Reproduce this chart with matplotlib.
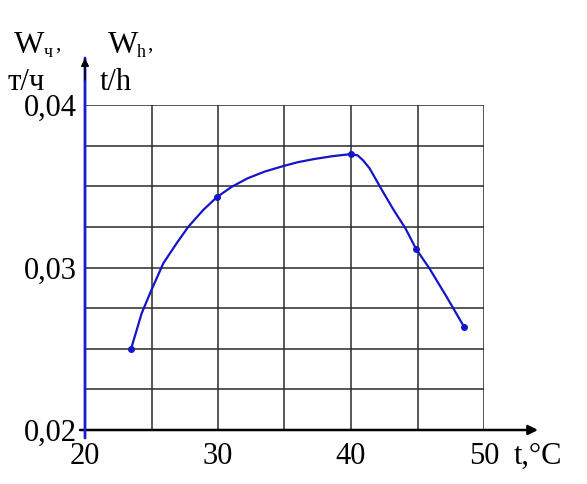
import matplotlib
matplotlib.use("Agg")
import matplotlib.pyplot as plt

# data
curve_t = [23.46, 24.26, 24.94, 25.89, 26.89, 27.77, 28.89, 29.9, 31.0, 32.2, 33.5, 34.9, 36.0, 37.2, 38.6, 40.0, 40.5, 40.9, 41.4, 42.4, 43.2, 44.1, 44.9, 45.9, 47.2, 48.5]
curve_w = [0.02498, 0.02718, 0.02851, 0.03026, 0.03149, 0.03251, 0.03354, 0.03432, 0.03495, 0.03548, 0.03590, 0.03624, 0.03648, 0.03667, 0.03685, 0.03698, 0.03690, 0.0366, 0.0361, 0.03466, 0.03355, 0.0324, 0.03113, 0.02994, 0.02818, 0.02635]
mark_t = [23.46, 29.9, 40.0, 44.9, 48.5]
mark_w = [0.02498, 0.03432, 0.03698, 0.03113, 0.02635]

x_ticks = [20, 25, 30, 35, 40, 45, 50]
x_labels = ["20", "", "30", "", "40", "", "50"]
y_ticks = [0.02, 0.0225, 0.025, 0.0275, 0.03, 0.0325, 0.035, 0.0375, 0.04]
y_labels = ["0,02", "", "", "", "0,03", "", "", "", "0,04"]

plt.rcParams['font.family'] = ['Liberation Serif', 'DejaVu Serif']

W, H = 587, 484
fig = plt.figure(figsize=(W / 100, H / 100), dpi=100)
L, R, T, B = 85, 484, 105, 430
ax = fig.add_axes([L / W, 1 - B / H, (R - L) / W, (B - T) / H])
ax.set_xlim(20, 50)
ax.set_ylim(0.02, 0.04)
for s in ax.spines.values():
    s.set_visible(False)
ax.set_xticks(x_ticks)
ax.set_xticklabels(x_labels)
ax.set_yticks(y_ticks)
ax.set_yticklabels(y_labels)
ax.tick_params(length=0, labelsize=22)
ax.tick_params(axis='x', pad=9)
ax.tick_params(axis='y', pad=6)
ax.grid(True, color='#2a2a2a', linewidth=1.1)
ax.set_axisbelow(True)

ax.plot(curve_t, curve_w, color='#1515c8', linewidth=1.6, zorder=3)
ax.plot(mark_t, mark_w, 'o', color='#1515c8', markersize=4, zorder=4)

# axes with arrows
ax.annotate('', xy=((538 - L) / (R - L), 0), xytext=((80 - L) / (R - L), 0),
            xycoords='axes fraction', textcoords='axes fraction',
            arrowprops=dict(arrowstyle='-|>', color='black', lw=1.8,
                            mutation_scale=14, shrinkA=0, shrinkB=0),
            annotation_clip=False, zorder=5)
ax.annotate('', xy=(0, (B - 58) / (B - T)), xytext=(0, (B - 438) / (B - T)),
            xycoords='axes fraction', textcoords='axes fraction',
            arrowprops=dict(arrowstyle='-', color='#1a1ad0', lw=2.0,
                            shrinkA=0, shrinkB=0),
            annotation_clip=False, zorder=6)
ax.annotate('', xy=(0, (B - 58) / (B - T)), xytext=(0, (B - 80) / (B - T)),
            xycoords='axes fraction', textcoords='axes fraction',
            arrowprops=dict(arrowstyle='-|>', color='black', lw=1.0,
                            mutation_scale=12, shrinkA=0, shrinkB=0),
            annotation_clip=False, zorder=7)

def px(x, y, s, size, **kw):
    fig.text(x / W, 1 - y / H, s, fontsize=size, **kw)

# axis labels
px(14, 53, "W", 23, va='baseline')
px(44, 57, "ч", 13, va='baseline')
px(55, 50, ",", 15, va='baseline')
px(108, 53, "W", 23, va='baseline')
px(137, 57, "h", 13, va='baseline')
px(147, 50, ",", 15, va='baseline')
px(7, 90, "т/ч", 22, va='baseline')
px(100, 90, "t/h", 22, va='baseline')
px(514, 464, "t,°C", 22, va='baseline')

fig.savefig("out.png", dpi=100)
